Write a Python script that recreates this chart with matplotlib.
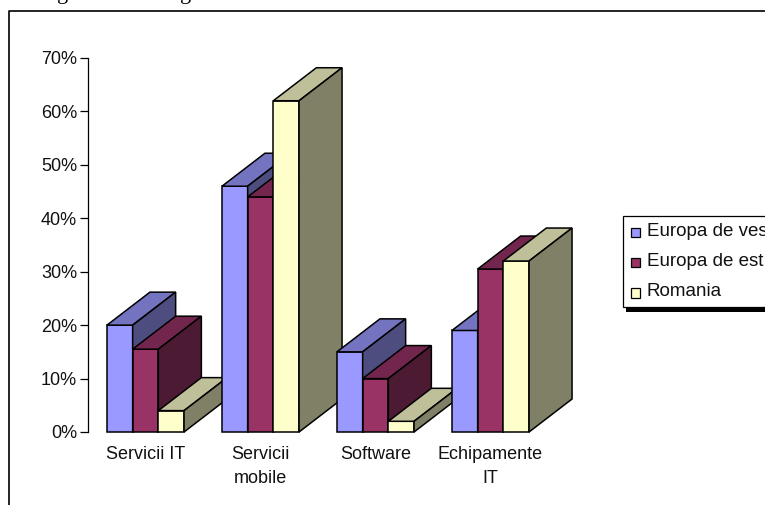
import matplotlib
matplotlib.use("Agg")
import matplotlib.pyplot as plt
from matplotlib.patches import Rectangle, Polygon

categories = ["Servicii IT", "Servicii\nmobile", "Software", "Echipamente\nIT"]
series_names = ["Europa de vest", "Europa de est", "Romania"]
europa_vest = [20, 46, 15, 19]
europa_est = [15.5, 44, 10, 30.5]
romania = [4, 62, 2, 32]
y_ticks = [0, 10, 20, 30, 40, 50, 60, 70]

front_colors = ["#9999ff", "#993366", "#ffffcc"]
top_colors = ["#7373bf", "#73264d", "#bfbf99"]
side_colors = ["#4d4d80", "#4d1a33", "#808066"]

W, H = 765, 505
plt.rcParams["font.family"] = ["Liberation Sans", "DejaVu Sans"]

fig = plt.figure(figsize=(W / 100, H / 100), dpi=100)

# outer chart frame, runs off the right and bottom edges
bg = fig.add_axes([0, 0, 1, 1])
bg.set_xlim(0, W)
bg.set_ylim(H, 0)
bg.axis("off")
bg.plot([9, 9, W + 5], [H + 5, 10.5, 10.5], color="black", lw=1.2, clip_on=False)

# tails of the line of body text above the chart
for x in [57, 180]:
    bg.text(x, -1, "g", fontsize=16, family="Liberation Serif", color="black", va="baseline", ha="left")

ax = fig.add_axes([88 / W, 1 - 432 / H, 460 / W, 374 / H])
ax.patch.set_alpha(0)
ax.set_xlim(0, 4)
ax.set_ylim(0, 70)
for s in ["top", "right", "bottom"]:
    ax.spines[s].set_visible(False)
ax.spines["left"].set_linewidth(0.9)
ax.set_yticks(y_ticks)
ax.set_yticklabels([f"{t}%" for t in y_ticks], fontsize=13, color="#111111")
ax.tick_params(axis="y", length=6, width=0.9, pad=1.8)
ax.tick_params(axis="x", length=0, pad=10)
ax.set_xticks([i + 0.5 for i in range(len(categories))])
ax.set_xticklabels(categories, fontsize=13, color="#111111", linespacing=1.55)

bar_w = 25.7 / 115
depth_x = 43 / 115
depth_y = 33 / 374 * 70


def draw_bar(x0, val, k):
    # front face, then the top and right faces of the box
    x1 = x0 + bar_w
    faces = [
        ([(x0, 0), (x1, 0), (x1, val), (x0, val)], front_colors[k]),
        ([(x0, val), (x1, val), (x1 + depth_x, val + depth_y), (x0 + depth_x, val + depth_y)], top_colors[k]),
        ([(x1, 0), (x1 + depth_x, depth_y), (x1 + depth_x, val + depth_y), (x1, val)], side_colors[k]),
    ]
    for pts, col in faces:
        ax.add_patch(Polygon(pts, closed=True, facecolor=col, edgecolor="black", lw=1.1,
                             joinstyle="miter", clip_on=False))


all_series = [europa_vest, europa_est, romania]
for i in range(len(categories)):
    start = i + 0.5 - 1.5 * bar_w
    for k, values in enumerate(all_series):
        draw_bar(start + k * bar_w, values[i], k)

# legend box with its hard shadow, cut off by the right edge
bg.add_patch(Rectangle((626, 222), 150, 90, facecolor="black", edgecolor="none", zorder=5))
bg.add_patch(Rectangle((623.5, 215.5), 150, 91, facecolor="white", edgecolor="black", lw=0.9, zorder=6))
for k, name in enumerate(series_names):
    y = 231 + k * 30.3
    bg.add_patch(Rectangle((631, y - 3.5), 9.5, 9.5, facecolor=front_colors[k], edgecolor="black", lw=0.9, zorder=7))
    bg.text(647, y, name, fontsize=13.5, color="#111111", va="center", ha="left", zorder=7)

fig.savefig("out.png", dpi=100)
